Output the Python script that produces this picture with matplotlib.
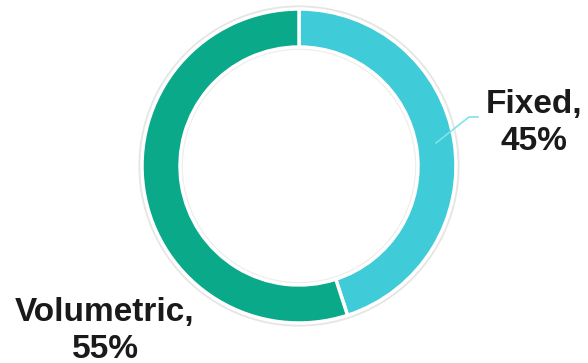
import matplotlib
matplotlib.use("Agg")
import matplotlib.pyplot as plt
from matplotlib.patches import Circle

labels = ["Fixed", "Volumetric"]
values = [45, 55]
colors = ["#3FCBD7", "#0AA98A"]

W, H = 588, 363
fig = plt.figure(figsize=(W / 100, H / 100), dpi=100)
ax = fig.add_axes([0, 0, 1, 1])

cx, cy, R, width = 299, H - 166, 157, 38
# subtle shadow ring
ax.add_patch(Circle((cx, cy), R + 1.5, facecolor="none", edgecolor="#E6E6E6", lw=3, zorder=0))
ax.add_patch(Circle((cx, cy), R - width - 1.5, facecolor="none", edgecolor="#EDEDED", lw=2, zorder=0))
ax.pie(values, colors=colors, startangle=90, counterclock=False, center=(cx, cy), radius=R,
       wedgeprops=dict(width=width, edgecolor="white", linewidth=2.5))
ax.set_xlim(0, W)
ax.set_ylim(0, H)
ax.set_aspect("equal")
ax.axis("off")

font = dict(family=["Liberation Sans", "DejaVu Sans"], fontsize=24, fontweight="bold",
            color="#1A1A1A", ha="center", va="baseline", linespacing=1.25)
ax.text(534, H - 150, f"{labels[0]},\n{values[0]}%", **font)
ax.text(105, H - 358, f"{labels[1]},\n{values[1]}%", **font)
ax.plot([436, 469, 478], [H - 143, H - 117, H - 117], color="#7FE3EC", lw=1.2)

fig.savefig("out.png", dpi=100)
